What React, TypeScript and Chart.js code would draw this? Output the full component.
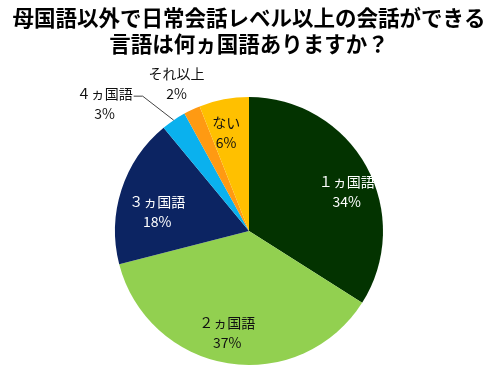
import React, { useEffect, useRef } from "react";
import { Chart, registerables } from "chart.js";

Chart.register(...registerables);

const titleLines = [
  "母国語以外で日常会話レベル以上の会話ができる",
  "言語は何ヵ国語ありますか？",
];
const categories = ["１ヵ国語", "２ヵ国語", "３ヵ国語", "４ヵ国語", "それ以上", "ない"];
const values = [34, 37, 18, 3, 2, 6];
const sliceColors = ["#033300", "#92D050", "#0C2462", "#0AB1EE", "#FF9A12", "#FFC000"];
const labelColors = ["#ffffff", "#111111", "#ffffff", "#111111", "#111111", "#111111"];

// label placement: radius factor along the mid angle + small nudge, optional leader line
const placements = [
  { r: 0.79, dx: 5, dy: 12 },
  { r: 0.75, dx: -6, dy: 2 },
  { r: 0.72, dx: 0, dy: 11 },
  { r: 1.0, dx: 0, dy: 0, leader: { elbowDx: -31, elbowDy: -24, endDx: -9, textDx: -31, textDy: 7.5 } },
  { r: 1.217, dx: -3, dy: 0 },
  { r: 0.75, dx: -4, dy: 0 },
];

const labelPlugin = {
  id: "sliceLabels",
  afterDatasetsDraw(chart: any) {
    const ctx = chart.ctx;
    const meta = chart.getDatasetMeta(0);
    const total = values.reduce((a, b) => a + b, 0);
    ctx.save();
    ctx.font = "14px 'Noto Sans CJK JP', 'Noto Sans', sans-serif";
    ctx.textAlign = "center";
    ctx.textBaseline = "middle";
    meta.data.forEach((arc: any, i: number) => {
      const { x, y, startAngle, endAngle, outerRadius } = arc.getProps(
        ["x", "y", "startAngle", "endAngle", "outerRadius"],
        true
      );
      const mid = (startAngle + endAngle) / 2;
      const p = placements[i];
      let cx = x + Math.cos(mid) * outerRadius * p.r + p.dx;
      let cy = y + Math.sin(mid) * outerRadius * p.r + p.dy;
      if (p.leader) {
        const L = p.leader;
        const ex = cx + L.elbowDx;
        const ey = cy + L.elbowDy;
        const tx = ex + L.endDx;
        ctx.strokeStyle = "#444444";
        ctx.lineWidth = 1;
        ctx.beginPath();
        ctx.moveTo(cx, cy);
        ctx.lineTo(ex, ey);
        ctx.lineTo(tx, ey);
        ctx.stroke();
        const w = ctx.measureText(categories[i]).width;
        cx = tx - w / 2 - 1;
        cy = ey + L.textDy;
      }
      const pct = Math.round((values[i] / total) * 100) + "%";
      ctx.fillStyle = labelColors[i];
      ctx.fillText(categories[i], cx, cy - 10);
      ctx.fillText(pct, cx, cy + 10);
    });
    ctx.restore();
  },
};

export default function App() {
  const ref = useRef<HTMLCanvasElement | null>(null);
  useEffect(() => {
    if (!ref.current) return;
    const chart = new Chart(ref.current, {
      type: "pie",
      data: {
        labels: categories,
        datasets: [
          {
            data: values,
            backgroundColor: sliceColors,
            borderWidth: 0,
            hoverOffset: 0,
            offset: 0,
          },
        ],
      },
      options: {
        responsive: false,
        animation: false,
        events: [],
        layout: { padding: { top: 0, left: 0, right: 2, bottom: 4 } },
        plugins: {
          legend: { display: false },
          tooltip: { enabled: false },
          title: {
            display: true,
            text: titleLines,
            color: "#000000",
            font: {
              family: "'Noto Sans CJK JP', sans-serif",
              size: 21.5,
              weight: "bold",
              lineHeight: "26px",
            },
            padding: { top: 5, bottom: 40 },
          },
        },
      },
      plugins: [labelPlugin],
    });
    return () => chart.destroy();
  }, []);
  return (
    <div style={{ position: "absolute", left: 0, top: 0, width: 500, height: 369, background: "#fff" }}>
      <canvas ref={ref} width={500} height={369} />
    </div>
  );
}
